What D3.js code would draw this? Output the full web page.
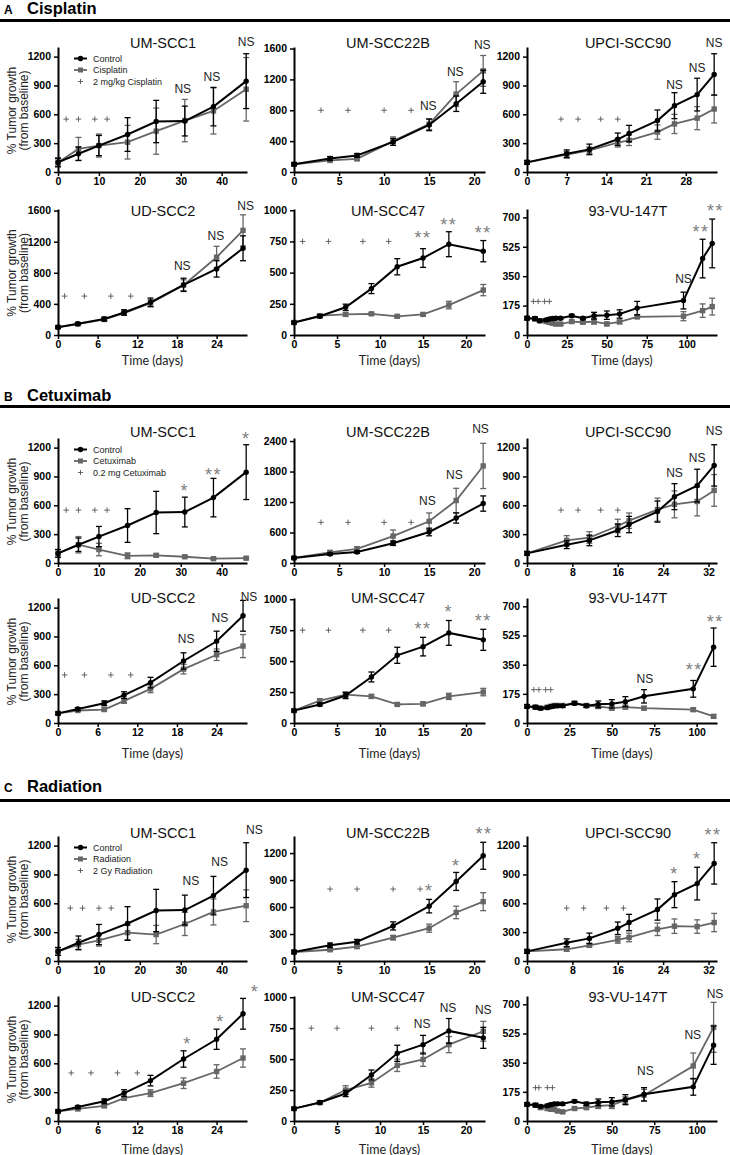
<!DOCTYPE html>
<html><head><meta charset="utf-8">
<script src="https://cdn.jsdelivr.net/npm/d3@7"></script>
<style>
body{margin:0;background:#fff;}
svg{display:block;}
</style></head><body>
<svg id="chart" width="730" height="1155"></svg>
<script>
// ---------- sections ----------
const sectionLetters = ["A","B","C"];
const sectionNames = ["Cisplatin","Cetuximab","Radiation"];
const legendTreat = ["Cisplatin","Cetuximab","Radiation"];
const legendDose = ["2 mg/kg Cisplatin","0.2 mg Cetuximab","2 Gy Radiation"];
const cellLines = ["UM-SCC1","UM-SCC22B","UPCI-SCC90","UD-SCC2","UM-SCC47","93-VU-147T"];

// ---------- time points (days) ----------
const daysSCC1 = [0,5,10,17,24,31,38,46];
const daysSCC22B = [0,4,7,11,15,18,21];
const daysSCC90 = [0,7,11,16,18,23,26,30,33];
const daysSCC2 = [0,3,7,10,14,19,24,28];
const daysSCC47 = [0,3,6,9,12,15,18,22];
const days147T_A = [0,5,8,12,14,16,18,21,28,35,42,50,58,69,98,110,116];
const days147T = [0,5,8,12,14,16,18,21,28,35,42,50,58,69,98,110];

// ---------- control series ----------
const ctrlSCC1 = [100,190,275,390,525,530,680,945];
const ctrlSCC1Err = [40,70,105,175,220,155,200,285];
const ctrlSCC22B = [100,175,215,390,610,885,1170];
const ctrlSCC22BErr = [20,25,25,45,75,100,150];
const ctrlSCC90 = [100,190,235,340,400,535,690,805,1015];
const ctrlSCC90Err = [20,40,55,65,85,110,135,170,215];
const ctrlSCC2 = [100,145,205,290,420,645,850,1115];
const ctrlSCC2Err = [15,15,25,35,55,85,105,160];
const ctrlSCC47 = [100,150,222,372,547,617,728,672];
const ctrlSCC47Err = [10,12,25,40,65,75,100,85];
const ctrl147T_A = [100,98,85,90,95,98,100,100,115,100,115,118,125,160,205,455,545];
const ctrl147T_AErr = [10,10,8,8,8,8,8,8,8,8,20,25,25,40,50,115,145];
const ctrl147T = [100,95,88,92,98,102,103,103,118,103,112,115,128,160,205,455];
const ctrl147TErr = [10,10,8,8,8,8,8,8,8,10,20,25,30,40,50,115];

// ---------- cisplatin series ----------
const cispSCC1 = [100,240,275,310,425,535,635,860];
const cispSCC1Err = [50,120,120,175,240,220,240,330];
const cispSCC22B = [100,150,170,400,620,1010,1310];
const cispSCC22BErr = [15,20,20,55,70,160,200];
const cispSCC90 = [100,180,225,305,330,415,500,560,655];
const cispSCC90Err = [15,35,35,45,55,75,100,120,145];
const cispSCC2 = [100,140,200,280,410,640,1000,1345];
const cispSCC2Err = [10,15,15,25,45,70,140,200];
const cispSCC47 = [100,155,165,170,150,165,240,360];
const cispSCC47Err = [10,10,15,10,10,10,30,45];
const cisp147T = [100,95,85,80,75,70,65,65,80,76,80,66,78,108,112,145,169];
const cisp147TErr = [10,10,10,8,8,8,8,8,8,8,15,10,10,10,27,40,50];

// ---------- cetuximab series ----------
const cetuxSCC1 = [100,190,140,75,80,65,45,50];
const cetuxSCC1Err = [40,85,65,30,15,12,10,10];
const cetuxSCC22B = [100,210,280,530,820,1230,1910];
const cetuxSCC22BErr = [15,30,40,120,165,240,445];
const cetuxSCC90 = [100,235,265,385,440,555,610,640,755];
const cetuxSCC90Err = [15,50,60,70,80,120,140,150,165];
const cetuxSCC2 = [100,130,140,230,355,560,710,800];
const cetuxSCC2Err = [10,10,15,25,40,50,60,120];
const cetuxSCC47 = [100,180,230,215,150,155,215,250];
const cetuxSCC47Err = [10,15,20,15,10,15,25,30];
const cetux147T = [100,95,90,95,100,105,105,105,120,105,99,89,95,89,80,40];
const cetux147TErr = [10,10,8,8,8,8,8,8,10,10,10,10,10,10,10,8];

// ---------- radiation series ----------
const radSCC1 = [100,170,215,295,275,385,510,575];
const radSCC1Err = [40,55,60,75,95,120,135,165];
const radSCC22B = [100,125,160,260,365,540,660];
const radSCC22BErr = [15,15,20,25,45,70,100];
const radSCC90 = [100,122,163,220,245,330,362,358,400];
const radSCC90Err = [15,20,20,35,45,65,75,70,95];
const radSCC2 = [100,125,157,237,290,393,515,655];
const radSCC2Err = [10,10,15,20,35,55,70,95];
const radSCC47 = [100,148,250,308,450,497,617,725];
const radSCC47Err = [10,10,35,35,50,55,65,80];
const rad147T = [100,95,80,75,70,70,60,55,75,80,90,95,125,155,330,562];
const rad147TErr = [10,10,10,10,10,10,8,8,8,10,15,20,20,35,78,150];

// ---------- treatment days ("+" marks) ----------
const plusA = [[2,5,9,12],[3,6,10,13],[6,9,13,16],[1,4,8,11],[1,4,8,11],[4,7,11,14]];
const plusB = [[2,5,9,12],[3,6,10,13],[6,9,13,16],[1,4,8,11],[1,4,8,11],[4,7,11,14]];
const plusC = [[3,6,10,13],[4,7,11,14],[7,10,14,17],[2,5,9,12],[2,5,9,12],[5,7,12,15]];
const plusLevel = [550,800,550,500,750,200];

// ---------- significance labels [day, value, text] ----------
const sigA = [
  [[30.5,860,"NS"],[37.6,985,"NS"],[46,1350,"NS"]],
  [[14.9,850,"NS"],[17.9,1300,"NS"],[20.9,1650,"NS"]],
  [[26,905,"NS"],[30,1085,"NS"],[33,1345,"NS"]],
  [[18.8,890,"NS"],[23.9,1275,"NS"],[28.4,1660,"NS"]],
  [[15,815,"**"],[18,920,"**"],[22,855,"**"]],
  [[98,335,"NS"],[109,640,"**"],[118,770,"**"]]
];
const sigB = [
  [[31,800,"*"],[38,965,"**"],[46,1340,"*"]],
  [[14.8,1230,"NS"],[17.8,1735,"NS"],[20.7,2630,"NS"]],
  [[26,940,"NS"],[30,1095,"NS"],[33,1370,"NS"]],
  [[19.4,870,"NS"],[24.5,1090,"NS"],[28.9,1310,"NS"]],
  [[15,795,"**"],[18,940,"*"],[22,860,"**"]],
  [[69.5,265,"NS"],[98.6,345,"**"],[111,635,"**"]]
];
const sigC = [
  [[32.5,827,"NS"],[39.5,1028,"NS"],[48,1367,"NS"]],
  [[15,836,"*"],[18,1114,"*"],[21.1,1462,"**"]],
  [[26,956,"*"],[30,1112,"*"],[32.8,1356,"**"]],
  [[19.6,850,"*"],[24.6,1084,"*"],[29.8,1392,"*"]],
  [[14.9,785,"NS"],[17.9,917,"NS"],[22,895,"NS"]],
  [[69.8,300,"NS"],[97.7,514,"NS"],[110.8,764,"NS"]]
];

// ---------- tick values ----------
const ticksX_SCC1 = [0,10,20,30,40];
const ticksX_SCC22B = [0,5,10,15,20];
const ticksX_SCC90_A = [0,7,14,21,28];
const ticksX_SCC90 = [0,8,16,24,32];
const ticksX_SCC2 = [0,6,12,18,24];
const ticksX_SCC47 = [0,5,10,15,20];
const ticksX_147T = [0,25,50,75,100];
const ticksY_1200 = [0,300,600,900,1200];
const ticksY_1600 = [0,400,800,1200,1600];
const ticksY_2400 = [0,600,1200,1800,2400];
const ticksY_1000 = [0,250,500,750,1000];
const ticksY_700 = [0,175,350,525,700];

// ---------- layout (pixels) ----------
const COLS = [{l:58,r:247},{l:294,r:485},{l:527,r:717}];
const ROWS = [[47,172],[209,335],[438,563],[598,723],[836,961],[996,1121]];
const TITLE_Y = [43,211,432,598,833,997];
const TITLE_X = [163,388,628];
const TIME_Y = {1:360,3:753,5:1149};
const HEADERS = [{base:14,rule:20.5},{base:401,rule:406.5},{base:792,rule:800.5}];

const CTRL_COLOR = "#000";
const TRT_COLOR = "#666";
const FONT = "'Liberation Sans', Arial, sans-serif";

// ---------- panel table ----------
const treatSets = [
  {plus:plusA, sig:sigA, s:[cispSCC1,cispSCC22B,cispSCC90,cispSCC2,cispSCC47,cisp147T], e:[cispSCC1Err,cispSCC22BErr,cispSCC90Err,cispSCC2Err,cispSCC47Err,cisp147TErr]},
  {plus:plusB, sig:sigB, s:[cetuxSCC1,cetuxSCC22B,cetuxSCC90,cetuxSCC2,cetuxSCC47,cetux147T], e:[cetuxSCC1Err,cetuxSCC22BErr,cetuxSCC90Err,cetuxSCC2Err,cetuxSCC47Err,cetux147TErr]},
  {plus:plusC, sig:sigC, s:[radSCC1,radSCC22B,radSCC90,radSCC2,radSCC47,rad147T], e:[radSCC1Err,radSCC22BErr,radSCC90Err,radSCC2Err,radSCC47Err,rad147TErr]}
];
const yTickSets = [
  [ticksY_1200,ticksY_1600,ticksY_1200,ticksY_1600,ticksY_1000,ticksY_700],
  [ticksY_1200,ticksY_2400,ticksY_1200,ticksY_1200,ticksY_1000,ticksY_700],
  [ticksY_1200,ticksY_1200,ticksY_1200,ticksY_1200,ticksY_1000,ticksY_700]
];
const yMaxSets = [
  [1300,1620,1300,1620,1010,750],
  [1300,2460,1300,1300,1010,750],
  [1300,1390,1300,1300,1010,750]
];

const panels = [];
for (let s = 0; s < 3; s++) {
  for (let i = 0; i < 6; i++) {
    const isA = s === 0;
    const days = [daysSCC1,daysSCC22B,daysSCC90,daysSCC2,daysSCC47, isA ? days147T_A : days147T][i];
    const ctrl = [ctrlSCC1,ctrlSCC22B,ctrlSCC90,ctrlSCC2,ctrlSCC47, isA ? ctrl147T_A : ctrl147T][i];
    const ctrlErr = [ctrlSCC1Err,ctrlSCC22BErr,ctrlSCC90Err,ctrlSCC2Err,ctrlSCC47Err, isA ? ctrl147T_AErr : ctrl147TErr][i];
    const xTicks = [ticksX_SCC1,ticksX_SCC22B, isA ? ticksX_SCC90_A : ticksX_SCC90, ticksX_SCC2,ticksX_SCC47,ticksX_147T][i];
    const xMax = [46.2,21.2,33.5,28.6,22.2, isA ? 119 : 112][i];
    panels.push({
      sec:s, row:s*2 + Math.floor(i/3), col:i%3, title:cellLines[i],
      days, ctrl, ctrlErr, trt:treatSets[s].s[i], trtErr:treatSets[s].e[i],
      xTicks, xMax, yTicks:yTickSets[s][i], yMax:yMaxSets[s][i],
      plus:treatSets[s].plus[i], plusY:plusLevel[i], sig:treatSets[s].sig[i]
    });
  }
}

const svg = d3.select("#chart");
svg.append("rect").attr("width",730).attr("height",1155).attr("fill","#fff");

// ---------- section headers ----------
HEADERS.forEach((h, s) => {
  svg.append("text").attr("x",4).attr("y",h.base).text(sectionLetters[s])
    .attr("font-family",FONT).attr("font-size",12).attr("font-weight","bold");
  svg.append("text").attr("x",27).attr("y",h.base).text(sectionNames[s])
    .attr("font-family",FONT).attr("font-size",16.5).attr("font-weight","bold");
  svg.append("rect").attr("x",0).attr("y",h.rule-1.5).attr("width",730).attr("height",3).attr("fill","#000");
});

function drawPlus(g, cx, cy, half) {
  g.append("line").attr("x1",cx-half).attr("x2",cx+half).attr("y1",cy).attr("y2",cy);
  g.append("line").attr("x1",cx).attr("x2",cx).attr("y1",cy-half).attr("y2",cy+half);
}

function drawSeries(g, x, y, days, vals, errs, color, shape, lw) {
  const pts = days.map((d,k) => ({d, v:vals[k], e:errs[k]}));
  const eb = g.append("g").attr("stroke",color).attr("stroke-width",1.3).attr("fill","none");
  pts.forEach(p => {
    const x0 = x(p.d), yt = y(p.v + p.e), yb = y(Math.max(0,p.v - p.e));
    eb.append("line").attr("x1",x0).attr("x2",x0).attr("y1",yt).attr("y2",yb);
    eb.append("line").attr("x1",x0-3).attr("x2",x0+3).attr("y1",yt).attr("y2",yt);
    eb.append("line").attr("x1",x0-3).attr("x2",x0+3).attr("y1",yb).attr("y2",yb);
  });
  g.append("path").datum(pts)
    .attr("d", d3.line().x(p => x(p.d)).y(p => y(p.v)))
    .attr("fill","none").attr("stroke",color).attr("stroke-width",lw);
  if (shape === "circle") {
    g.append("g").selectAll("circle").data(pts).join("circle")
      .attr("cx",p => x(p.d)).attr("cy",p => y(p.v)).attr("r",2.7).attr("fill",color);
  } else {
    g.append("g").selectAll("rect").data(pts).join("rect")
      .attr("x",p => x(p.d)-2.7).attr("y",p => y(p.v)-2.7).attr("width",5.4).attr("height",5.4).attr("fill",color);
  }
}

panels.forEach(p => {
  const col = COLS[p.col], row = ROWS[p.row];
  const x = d3.scaleLinear().domain([0,p.xMax]).range([col.l,col.r]);
  const y = d3.scaleLinear().domain([0,p.yMax]).range([row[1],row[0]]);
  const g = svg.append("g");

  // title
  g.append("text").attr("x",TITLE_X[p.col]).attr("y",TITLE_Y[p.row]).text(p.title)
    .attr("text-anchor","middle").attr("dominant-baseline","central")
    .attr("font-family",FONT).attr("font-size",14.5).attr("fill","#111");

  // treatment marks
  const pg = g.append("g").attr("stroke","#555").attr("stroke-width",0.9);
  p.plus.forEach(d => drawPlus(pg, x(d), y(p.plusY), 2.8));

  // series
  drawSeries(g, x, y, p.days, p.trt, p.trtErr, TRT_COLOR, "square", 1.8);
  drawSeries(g, x, y, p.days, p.ctrl, p.ctrlErr, CTRL_COLOR, "circle", 2);

  // axes
  const ax = g.append("g").attr("transform",`translate(0,${row[1]})`)
    .call(d3.axisBottom(x).tickValues(p.xTicks).tickFormat(d3.format("d")).tickSize(4).tickSizeOuter(0).tickPadding(2));
  const ay = g.append("g").attr("transform",`translate(${col.l},0)`)
    .call(d3.axisLeft(y).tickValues(p.yTicks).tickFormat(d3.format("d")).tickSize(4).tickSizeOuter(0).tickPadding(3));
  [ax, ay].forEach(a => {
    a.select(".domain").attr("stroke","#000").attr("stroke-width",2);
    a.selectAll(".tick line").attr("stroke","#000").attr("stroke-width",1.5);
    a.selectAll(".tick text").attr("font-family",FONT).attr("font-weight","bold")
      .attr("font-size",10.5).attr("fill","#000");
  });

  // significance labels
  p.sig.forEach(([d,v,t]) => {
    const star = t.indexOf("*") >= 0;
    g.append("text").attr("x",x(d)).attr("y",y(v)).text(t)
      .attr("text-anchor","middle").attr("dominant-baseline","central")
      .attr("dy", star ? "0.27em" : 0)
      .attr("letter-spacing", star ? 1.5 : 0)
      .attr("font-family",FONT).attr("font-size", star ? 18 : 12)
      .attr("fill", star ? "#808080" : "#222");
  });

  // y label
  if (p.col === 0) {
    const cy = (row[0] + row[1]) / 2 + 1;
    g.append("text").attr("transform",`translate(12,${cy}) rotate(-90)`).text("% Tumor growth")
      .attr("text-anchor","middle").attr("dominant-baseline","central")
      .attr("font-family",FONT).attr("font-size",12).attr("fill","#222");
    g.append("text").attr("transform",`translate(23.5,${cy}) rotate(-90)`).text("(from baseline)")
      .attr("text-anchor","middle").attr("dominant-baseline","central")
      .attr("font-family",FONT).attr("font-size",12).attr("fill","#222");
  }

  // x label
  if (p.row % 2 === 1) {
    g.append("text").attr("x",(col.l+col.r)/2).attr("y",TIME_Y[p.row]).text("Time (days)")
      .attr("text-anchor","middle").attr("dominant-baseline","central")
      .attr("font-family","Lato, 'Liberation Sans', sans-serif").attr("font-size",12.5).attr("fill","#222");
  }

  // legend
  if (p.row % 2 === 0 && p.col === 0) {
    const ly = [row[0]+11.5, row[0]+23, row[0]+34.5];
    const lg = g.append("g").attr("font-family",FONT).attr("font-size",9).attr("fill","#222");
    lg.append("line").attr("x1",74).attr("x2",87).attr("y1",ly[0]).attr("y2",ly[0]).attr("stroke",CTRL_COLOR).attr("stroke-width",2);
    lg.append("circle").attr("cx",80.5).attr("cy",ly[0]).attr("r",2.7).attr("fill",CTRL_COLOR);
    lg.append("line").attr("x1",74).attr("x2",87).attr("y1",ly[1]).attr("y2",ly[1]).attr("stroke",TRT_COLOR).attr("stroke-width",1.8);
    lg.append("rect").attr("x",78).attr("y",ly[1]-2.5).attr("width",5).attr("height",5).attr("fill",TRT_COLOR);
    const lp = lg.append("g").attr("stroke","#555").attr("stroke-width",0.9);
    drawPlus(lp, 80.5, ly[2], 2.5);
    [ "Control", legendTreat[p.sec], legendDose[p.sec] ].forEach((t,k) => {
      lg.append("text").attr("x",93).attr("y",ly[k]).text(t).attr("dominant-baseline","central");
    });
  }
});
</script></body></html>
